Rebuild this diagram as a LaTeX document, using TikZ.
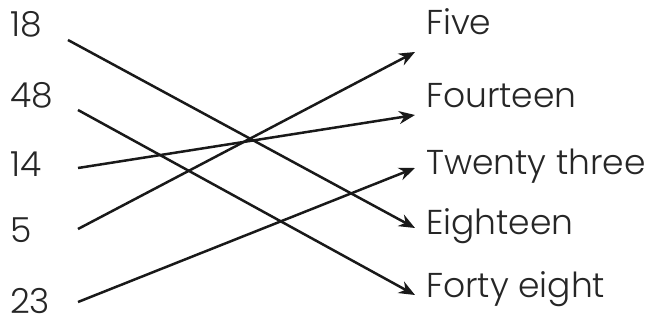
\documentclass[tikz,border=0pt]{standalone}
\usepackage{fontspec}
\setmainfont{Poppins}[UprightFont=* Light]
\usetikzlibrary{arrows.meta}
\begin{document}
\begin{tikzpicture}[x=1pt,y=-1pt,
  lbl/.style={anchor=base west,inner sep=0pt,font=\fontsize{34.5}{34.5}\selectfont,text=black!85},
  conn/.style={line width=2.5pt,black!90,-{Stealth[length=16pt,width=13pt]}}]
\useasboundingbox (0,0) rectangle (662,326);
\node[lbl] (n18) at (10,37) {18};
\node[lbl] (n48) at (10,108) {48};
\node[lbl] (n14) at (10,177) {14};
\node[lbl] (n5) at (10,243) {5};
\node[lbl] (n23) at (10,313) {23};
\node[lbl] (five) at (426,35) {Five};
\node[lbl] (fourteen) at (426,108) {Fourteen};
\node[lbl] (twentythree) at (426,175) {Twenty three};
\node[lbl] (eighteen) at (426,235) {Eighteen};
\node[lbl] (fortyeight) at (426,298) {Forty eight};
\coordinate (s18) at (68,40);
\coordinate (s48) at (78,110);
\coordinate (s14) at (78,168);
\coordinate (s5) at (78,229);
\coordinate (s23) at (78,302);
\coordinate (tfive) at (415,52);
\coordinate (tfourteen) at (415,115);
\coordinate (ttwentythree) at (415,168);
\coordinate (teighteen) at (415,228);
\coordinate (tfortyeight) at (415,295);
\draw[conn] (s18) -- (teighteen);
\draw[conn] (s48) -- (tfortyeight);
\draw[conn] (s14) -- (tfourteen);
\draw[conn] (s5) -- (tfive);
\draw[conn] (s23) -- (ttwentythree);
\end{tikzpicture}
\end{document}
